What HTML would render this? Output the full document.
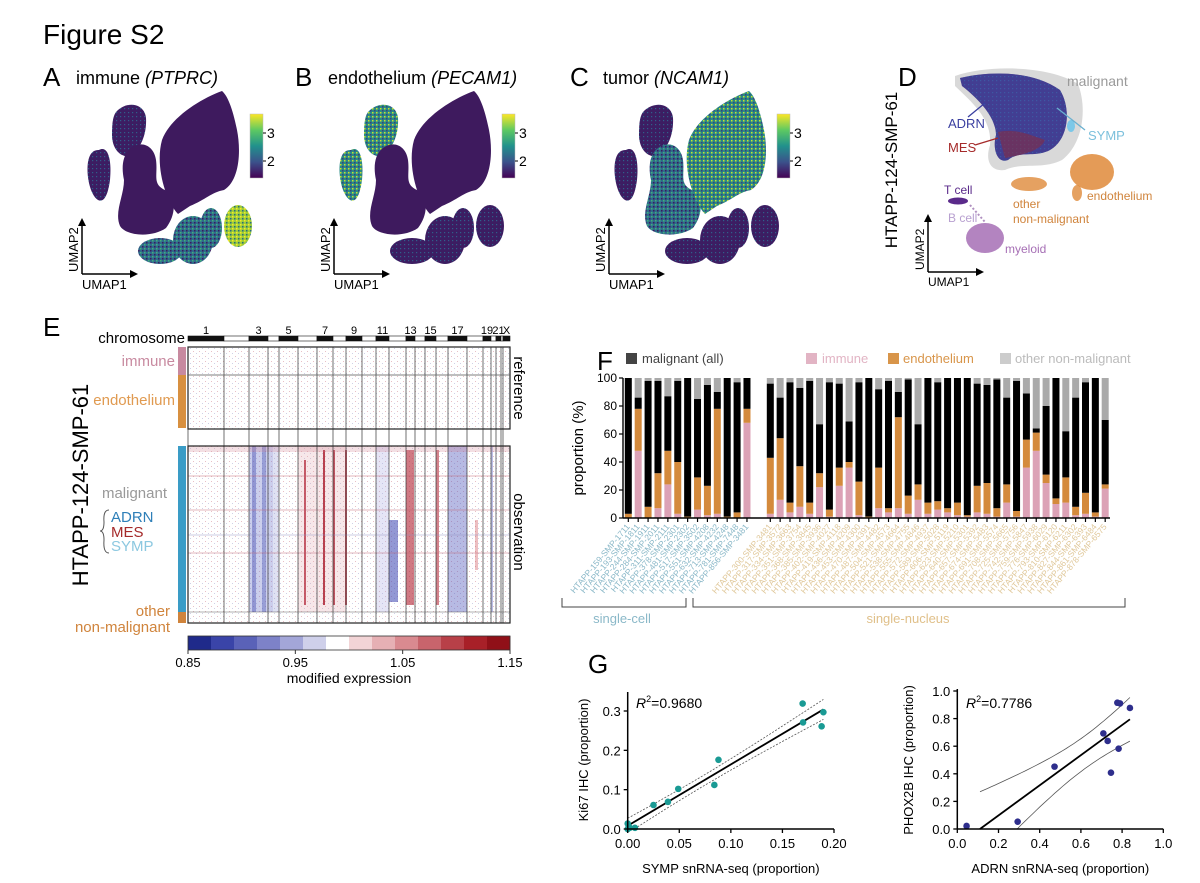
<!DOCTYPE html>
<html><head><meta charset="utf-8"><style>
html,body{margin:0;padding:0;background:#fff;}
svg{display:block;font-family:"Liberation Sans",Arial,sans-serif;}
</style></head><body>
<svg id="fig" width="1200" height="883" viewBox="0 0 1200 883" xmlns="http://www.w3.org/2000/svg">
<defs>
<linearGradient id="viridis" x1="0" y1="1" x2="0" y2="0">
<stop offset="0" stop-color="#440154"/><stop offset="0.25" stop-color="#3b528b"/><stop offset="0.5" stop-color="#21918c"/><stop offset="0.75" stop-color="#5ec962"/><stop offset="1" stop-color="#fde725"/>
</linearGradient>
<pattern id="mottleGreen" width="4" height="4" patternUnits="userSpaceOnUse"><rect width="4" height="4" fill="#2a8a84"/><rect x="0" y="0" width="1.5" height="1.5" fill="#c8e030"/><rect x="2" y="2" width="1.5" height="1.5" fill="#3a3f7e"/></pattern>
<pattern id="mottleTeal" width="4" height="4" patternUnits="userSpaceOnUse"><rect width="4" height="4" fill="#2f6a8a"/><rect x="0" y="0" width="1.5" height="1.5" fill="#42b07a"/><rect x="2" y="2" width="1.5" height="1.5" fill="#3a1a5e"/></pattern>
<pattern id="mottleYellow" width="4" height="4" patternUnits="userSpaceOnUse"><rect width="4" height="4" fill="#9ccc3a"/><rect x="0" y="0" width="1.5" height="1.5" fill="#fde725"/><rect x="2" y="2" width="1.5" height="1.5" fill="#2a6a7e"/></pattern>
<pattern id="mottlePurple" width="4" height="4" patternUnits="userSpaceOnUse"><rect width="4" height="4" fill="#3c1d62"/><rect x="0" y="0" width="1.2" height="1.2" fill="#2f5f8a"/></pattern>
<pattern id="hmNoise" width="6" height="5" patternUnits="userSpaceOnUse"><rect width="6" height="5" fill="#fff"/><rect x="1" y="1" width="1" height="1" fill="#e8c0c6"/><rect x="4" y="3" width="1" height="1" fill="#d0d0e6"/></pattern>
</defs>

<text x="43" y="44" font-size="28">Figure S2</text>

<g id="umaps"></g>

<!-- Panel D -->
<g>
<text x="898" y="86" font-size="26">D</text>
<text transform="translate(897,170) rotate(-90)" text-anchor="middle" font-size="17">HTAPP-124-SMP-61</text>
<path d="M955,76 C990,64 1050,66 1078,84 C1088,110 1082,145 1062,160 C1042,170 1022,162 1005,170 C990,172 985,160 990,145 C992,120 975,105 955,86 Z" fill="#d9d9d9"/>
<path d="M960,78 C995,70 1035,72 1060,90 C1072,110 1068,140 1050,150 C1035,158 1020,150 1008,160 C998,164 992,150 996,135 C996,118 980,100 962,86 Z" fill="url(#mottlePurple)" opacity="0.9"/>
<path d="M960,78 C995,70 1035,72 1060,90 C1072,110 1068,140 1050,150 C1035,158 1020,150 1008,160 C998,164 992,150 996,135 C996,118 980,100 962,86 Z" fill="#3b4bb0" opacity="0.55"/>
<path d="M998,132 C1015,128 1030,135 1045,140 C1040,152 1020,155 1005,158 Z" fill="#8b2a3a" opacity="0.55"/>
<ellipse cx="1071" cy="126" rx="4" ry="6" fill="#7cc8e8"/>
<line x1="1057" y1="108" x2="1085" y2="130" stroke="#6ab0d0" stroke-width="1.3"/>
<ellipse cx="1092" cy="172" rx="22" ry="18" fill="#df8a3a" opacity="0.85"/>
<ellipse cx="1077" cy="193" rx="5" ry="8" fill="#df8a3a" opacity="0.8"/>
<ellipse cx="1029" cy="184" rx="18" ry="7" fill="#df8a3a" opacity="0.8"/>
<ellipse cx="958" cy="201" rx="10" ry="3.5" fill="#5a2a8a"/>
<ellipse cx="985" cy="238" rx="19" ry="15" fill="#a66fb5" opacity="0.85"/>
<line x1="970" y1="205" x2="985" y2="222" stroke="#b090c0" stroke-width="2" stroke-dasharray="2 2"/>
<text x="1067" y="86" font-size="14" fill="#9a9a9a">malignant</text>
<text x="948" y="128" font-size="13" fill="#3a3fa0">ADRN</text>
<line x1="968" y1="117" x2="985" y2="103" stroke="#3a3fa0" stroke-width="1.3"/>
<text x="948" y="152" font-size="13" fill="#a52a2a">MES</text>
<line x1="975" y1="145" x2="998" y2="138" stroke="#a52a2a" stroke-width="1.3"/>
<text x="1088" y="140" font-size="13" fill="#7cc0dc">SYMP</text>
<text x="944" y="194" font-size="12" fill="#5a2a8a">T cell</text>
<text x="948" y="222" font-size="12" fill="#b8a0d0">B cell</text>
<text x="1005" y="253" font-size="12" fill="#a66fb5">myeloid</text>
<text x="1087" y="200" font-size="12" fill="#d0843c">endothelium</text>
<text x="1013" y="208" font-size="12" fill="#d0843c">other</text>
<text x="1013" y="223" font-size="12" fill="#d0843c">non-malignant</text>
<line x1="928" y1="272" x2="928" y2="220" stroke="#000" stroke-width="1.5"/>
<path d="M924,222 L928,214 L932,222 Z"/>
<line x1="928" y1="272" x2="978" y2="272" stroke="#000" stroke-width="1.5"/>
<path d="M976,268 L984,272 L976,276 Z"/>
<text transform="translate(924,270) rotate(-90)" font-size="12">UMAP2</text>
<text x="928" y="286" font-size="12">UMAP1</text>
</g>

<!-- Panel E -->
<g id="panelE">
<text x="43" y="336" font-size="26">E</text>
<text transform="translate(88,485) rotate(-90)" text-anchor="middle" font-size="22">HTAPP-124-SMP-61</text>
<text x="185" y="343" text-anchor="end" font-size="15">chromosome</text>
<text x="175" y="366" text-anchor="end" font-size="15" fill="#c88aa0">immune</text>
<text x="175" y="405" text-anchor="end" font-size="15" fill="#e09a50">endothelium</text>
<text x="167" y="498" text-anchor="end" font-size="15" fill="#999">malignant</text>
<text x="111" y="522" font-size="15" fill="#2e7fb8">ADRN</text>
<text x="111" y="537" font-size="15" fill="#a52a2a">MES</text>
<text x="111" y="551" font-size="15" fill="#8cc8e0">SYMP</text>
<path d="M109,510 Q103,510 104,522 Q104,531 100,531 Q104,531 104,540 Q103,553 109,553" fill="none" stroke="#555" stroke-width="1"/>
<text x="170" y="616" text-anchor="end" font-size="15" fill="#d0843c">other</text>
<text x="170" y="632" text-anchor="end" font-size="15" fill="#d0843c">non-malignant</text>
<rect x="178" y="347" width="8" height="28" fill="#c88aa0"/>
<rect x="178" y="375" width="8" height="53" fill="#d89040"/>
<rect x="178" y="446" width="8" height="166" fill="#3a9cc6"/>
<rect x="178" y="612" width="8" height="11" fill="#d0843c"/>
<rect x="188" y="347" width="322" height="82" fill="url(#hmNoise)"/>
<rect x="188" y="446" width="322" height="177" fill="url(#hmNoise)"/>
<g id="hmStripes"></g>
<g id="chromBar"></g>
<rect x="188" y="347" width="322" height="82" fill="none" stroke="#222" stroke-width="1.2"/>
<rect x="188" y="446" width="322" height="177" fill="none" stroke="#222" stroke-width="1.2"/>
<line x1="188" y1="375" x2="510" y2="375" stroke="#555" stroke-width="0.8"/>
<text transform="translate(514,388) rotate(90)" text-anchor="middle" font-size="15">reference</text>
<text transform="translate(514,532) rotate(90)" text-anchor="middle" font-size="15">observation</text>
<g id="hmColorbar"></g>
<text x="349" y="683" text-anchor="middle" font-size="14">modified expression</text>
</g>

<!-- Panel F -->
<g id="panelF">
<text x="597" y="370" font-size="26">F</text>
<rect x="626" y="353" width="11" height="11" fill="#444"/>
<text x="642" y="363" font-size="13" fill="#444">malignant (all)</text>
<rect x="806" y="353" width="11" height="11" fill="#e2b4c4"/>
<text x="822" y="363" font-size="13" fill="#e2b4c4">immune</text>
<rect x="888" y="353" width="11" height="11" fill="#d8954a"/>
<text x="903" y="363" font-size="13" fill="#d8954a">endothelium</text>
<rect x="1000" y="353" width="11" height="11" fill="#ccc"/>
<text x="1015" y="363" font-size="13" fill="#bbb">other non-malignant</text>
<text transform="translate(583,448) rotate(-90)" text-anchor="middle" font-size="15">proportion (%)</text>
<g id="barsF"></g>
<path d="M562,598 L562,607 L686,607 L686,598" fill="none" stroke="#444" stroke-width="1"/>
<text x="622" y="623" text-anchor="middle" font-size="13" fill="#8ab8c8">single-cell</text>
<path d="M693,598 L693,607 L1125,607 L1125,598" fill="none" stroke="#444" stroke-width="1"/>
<text x="908" y="623" text-anchor="middle" font-size="13" fill="#e0c08a">single-nucleus</text>
</g>

<!-- Panel G -->
<g id="panelG">
<text x="588" y="673" font-size="26">G</text>
<g id="scatterL"></g>
<g id="scatterR"></g>
</g>
</svg>

<script>
// ---------- Panel F data ----------
const groupSizes = [13, 35];
const immuneVals = [0,48,0,7,24,3,0,6,2,3,0,0,68,
  3,13,4,8,3,22,1,23,36,2,0,7,4,7,3,13,3,6,4,2,1,4,3,1,11,1,36,48,25,10,11,2,3,1,21];
const endoTopVals = [3,78,8,32,48,40,1,29,23,78,1,4,78,
  43,57,11,37,11,32,6,36,40,26,1,36,7,72,16,24,11,12,7,11,2,23,25,7,24,5,56,61,31,14,29,8,18,4,24];
const malignantTopVals = [100,86,98,98,87,98,100,85,95,90,100,97,100,
  96,86,97,93,98,67,97,96,69,97,100,92,98,90,99,67,100,97,100,100,100,96,95,99,86,98,89,64,80,100,62,86,97,100,70];
const yTicksF = [0,20,40,60,80,100];
const scLabels = ["HTAPP-159-SMP-1711","HTAPP-193-SMP-1811","HTAPP-244-SMP-1911","HTAPP-284-SMP-2011","HTAPP-311-SMP-2111","HTAPP-378-SMP-2301","HTAPP-481-SMP-2302","HTAPP-517-SMP-3502","HTAPP-551-SMP-4208","HTAPP-632-SMP-4232","HTAPP-713-SMP-4248","HTAPP-781-SMP-7448","HTAPP-856-SMP-3481"];

// ---------- Panel G data ----------
const sympX = [0.1696,0.170,0.1897,0.188,0.088,0.084,0.049,0.039,0.025,0.000,0.001,0.002,0.007,0.000];
const ki67Y = [0.319,0.271,0.297,0.261,0.176,0.112,0.102,0.069,0.061,0.014,0.006,0.003,0.003,0.000];
const adrnX = [0.045,0.293,0.472,0.709,0.730,0.777,0.790,0.838,0.783,0.746];
const phox2bY = [0.022,0.053,0.452,0.693,0.638,0.915,0.910,0.877,0.582,0.408];
const xTicksL = [0,0.05,0.10,0.15,0.20];
const yTicksL = [0,0.1,0.2,0.3];
const xTicksR = [0,0.2,0.4,0.6,0.8,1.0];
const yTicksR = [0,0.2,0.4,0.6,0.8,1.0];

// ---------- Heatmap E data ----------
const chromLabels = ["1","3","5","7","9","11","13","15","17","19","21","X"];
const chromBounds = [188,224,249,268,279,298,317,333,346,362,376,389,406,415,425,436,448,467,483,491,496,501,503,510];
const colorbarVals = [0.85,0.95,1.05,1.15];
const colorbarColors = ["#1f2a8a","#3a44a8","#5a62b8","#7d82c8","#a3a6d8","#cfd0ea","#ffffff","#f2d4d6","#e6b0b4","#d98a90","#c8646c","#b84048","#a82028","#901018"];

const NS = "http://www.w3.org/2000/svg";
function mk(parent, tag, attrs, text){
  const e = document.createElementNS(NS, tag);
  for (const k in attrs) e.setAttribute(k, attrs[k]);
  if (text !== undefined) e.textContent = text;
  parent.appendChild(e);
  return e;
}

// ---------- UMAP panels A-C ----------
(function(){
  const g = document.getElementById('umaps');
  const panels = [
    {dx:0, letter:'A', title:'immune ', ital:'(PTPRC)', name:'a',
     leaf:'#3e1a5e', mid:'#3e1a5e', ul:'url(#mottlePurple)', sl:'url(#mottlePurple)', b1:'url(#mottleTeal)', b2:'url(#mottleTeal)', y1:'url(#mottleYellow)'},
    {dx:252, letter:'B', title:'endothelium ', ital:'(PECAM1)', name:'b',
     leaf:'#3e1a5e', mid:'#3e1a5e', ul:'url(#mottleGreen)', sl:'url(#mottleGreen)', b1:'url(#mottlePurple)', b2:'url(#mottlePurple)', y1:'url(#mottlePurple)'},
    {dx:527, letter:'C', title:'tumor ', ital:'(NCAM1)', name:'c',
     leaf:'url(#mottleGreen)', mid:'url(#mottleTeal)', ul:'url(#mottlePurple)', sl:'url(#mottlePurple)', b1:'url(#mottlePurple)', b2:'url(#mottlePurple)', y1:'url(#mottlePurple)'}
  ];
  panels.forEach(p => {
    const pg = mk(g, 'g', {transform:`translate(${p.dx},0)`});
    
    
    const L = mk(pg, 'text', {x:43, y:86, 'font-size':26}, p.letter);
    
    
    const t = mk(pg, 'text', {x:76, y:84, 'font-size':18});
    
    
    t.appendChild(document.createTextNode(p.title));
    mk(t, 'tspan', {'font-style':'italic'}, p.ital);
    const shapes = [
      ['path', {d:'M99,150 C108,145 112,160 110,180 C108,195 104,203 98,200 C90,195 86,175 88,162 C90,152 94,150 99,150 Z', fill:p.sl}, 'small-left-cluster'],
      ['path', {d:'M118,110 C130,100 145,105 146,118 C147,135 140,150 130,156 C120,158 112,148 112,135 C112,122 113,114 118,110 Z', fill:p.ul}, 'upper-left-cluster'],
      ['path', {d:'M131,148 C142,140 154,146 156,160 C158,175 152,184 165,190 C177,197 176,215 166,228 C152,238 126,236 120,226 C114,212 124,196 124,180 C121,166 123,154 131,148 Z', fill:p.mid}, 'middle-cluster'],
      ['path', {d:'M222,91 C200,99 170,118 162,140 C155,165 165,200 178,214 L190,206 C205,200 212,192 224,190 C240,180 241,150 237,130 C233,110 228,96 222,91 Z', fill:p.leaf}, 'main-leaf-cluster'],
      ['ellipse', {cx:160, cy:251, rx:22, ry:13, fill:p.b1}, 'bottom-left-cluster'],
      ['ellipse', {cx:193, cy:240, rx:20, ry:24, fill:p.b2}, 'bottom-mid-cluster'],
      ['ellipse', {cx:211, cy:228, rx:11, ry:20, fill:p.b2}, 'bottom-right-cluster'],
      ['ellipse', {cx:238, cy:226, rx:14, ry:21, fill:p.y1}, 'side-cluster']
    ];
    shapes.forEach(s => {
      const e = mk(pg, s[0], s[1]);
      
      
    });
    const cb = mk(pg, 'rect', {x:250, y:114, width:13, height:64, fill:'url(#viridis)', stroke:'#bbb', 'stroke-width':0.5});
    
    
    [['3',133],['2',161]].forEach(v => {
      mk(pg, 'line', {x1:263, x2:266, y1:v[1], y2:v[1], stroke:'#000'});
      const tt = mk(pg, 'text', {x:267, y:v[1]+5, 'font-size':14}, v[0]);
      
      
    });
    mk(pg, 'line', {x1:82, y1:274, x2:82, y2:224, stroke:'#000', 'stroke-width':1.5});
    mk(pg, 'path', {d:'M78,226 L82,218 L86,226 Z'});
    mk(pg, 'line', {x1:82, y1:274, x2:132, y2:274, stroke:'#000', 'stroke-width':1.5});
    mk(pg, 'path', {d:'M130,270 L138,274 L130,278 Z'});
    const u2 = mk(pg, 'text', {transform:'translate(78,272) rotate(-90)', 'font-size':13}, 'UMAP2');
    
    
    const u1 = mk(pg, 'text', {x:82, y:289, 'font-size':13}, 'UMAP1');
    
    
  });
})();

// ---------- Heatmap E ----------
(function(){
  const cg = document.getElementById('chromBar');
  for (let i = 0; i < chromBounds.length - 1; i++) {
    const r = mk(cg, 'rect', {x:chromBounds[i], y:336, width:chromBounds[i+1]-chromBounds[i], height:5,
      fill: i % 2 === 0 ? '#111' : '#fff', stroke:'#111', 'stroke-width':0.6});
    
    
    const ln = mk(cg, 'line', {x1:chromBounds[i], x2:chromBounds[i], y1:347, y2:623, stroke:'#333', 'stroke-width':0.7});
    
    
  }
  chromLabels.forEach((lab, j) => {
    const i = j * 2;
    const cx = (chromBounds[i] + chromBounds[i+1]) / 2;
    const tx = mk(cg, 'text', {x:cx, y:334, 'text-anchor':'middle', 'font-size':11}, lab);
    
    
  });
  const sg = document.getElementById('hmStripes');
  const stripes = [
    [249,273,446,612,'#6a72c8',0.35],[252,256,446,612,'#3a44b0',0.4],[262,266,446,612,'#3a44b0',0.35],[273,279,446,612,'#8088cc',0.25],
    [298,317,446,612,'#e0a0a8',0.25],[304,306,460,605,'#b02030',0.7],
    [317,346,446,612,'#e0a0a8',0.25],[323,325,450,605,'#a81828',0.8],[333,335,450,605,'#a81828',0.7],[345,347,450,605,'#a81828',0.7],
    [376,389,446,612,'#a8aae0',0.3],[389,398,520,602,'#3a44b0',0.55],
    [406,414,450,605,'#b02030',0.6],
    [436,439,450,605,'#b83040',0.6],[448,467,446,612,'#4a52b8',0.4],
    [475,478,520,570,'#c84850',0.35],[491,493,446,612,'#5a62c0',0.4],
    [188,510,446,452,'#d08090',0.25]
  ];
  stripes.forEach(s => {
    const r = mk(sg, 'rect', {x:s[0], y:s[2], width:s[1]-s[0], height:s[3]-s[2], fill:s[4], opacity:s[5]});
    
    
  });
  [[188,510,476,'#c06070'],[188,510,510,'#c06070'],[188,510,535,'#9090c0'],[188,510,553,'#c06070'],[188,510,612,'#555']].forEach(h => {
    const l = mk(sg, 'line', {x1:h[0], x2:h[1], y1:h[2], y2:h[2], stroke:h[3], 'stroke-width':0.8, opacity:0.6});
    
    
  });
  const cb = document.getElementById('hmColorbar');
  const x0 = 188, x1 = 510, w = (x1 - x0) / colorbarColors.length;
  colorbarColors.forEach((c, i) => {
    const r = mk(cb, 'rect', {x:x0 + i*w, y:636, width:w+0.3, height:14, fill:c});
    
    
  });
  const border = mk(cb, 'rect', {x:x0, y:636, width:x1-x0, height:14, fill:'none', stroke:'#333', 'stroke-width':0.8});
  
  
  const sx = v => x0 + (v - 0.85) / 0.30 * (x1 - x0);
  colorbarVals.forEach(v => {
    mk(cb, 'line', {x1:sx(v), x2:sx(v), y1:650, y2:654, stroke:'#333'});
    const t = mk(cb, 'text', {x:sx(v), y:667, 'text-anchor':'middle', 'font-size':13}, v.toFixed(2));
    
    
  });
})();

// ---------- Bars F ----------
(function(){
  const g = document.getElementById('barsF');
  const yB = 518, yT = 378;
  const sy = v => yB - v / 100 * (yB - yT);
  const g1Start = 628.3, g1Step = 9.89, g2Start = 770.3, g2Step = 9.85, bw = 7;
  const xOf = i => i < groupSizes[0] ? g1Start + i * g1Step : g2Start + (i - groupSizes[0]) * g2Step;
  const n = immuneVals.length;
  for (let i = 0; i < n; i++) {
    const cx = xOf(i), x = cx - bw/2;
    const segs = [
      [0, immuneVals[i], '#dca2b6', 'bar-immune'],
      [immuneVals[i], endoTopVals[i], '#d48a3c', 'bar-endothelium'],
      [endoTopVals[i], malignantTopVals[i], '#000', 'bar-malignant'],
      [malignantTopVals[i], 100, '#aaaaaa', 'bar-other']
    ];
    segs.forEach(s => {
      if (s[1] - s[0] <= 0) return;
      const r = mk(g, 'rect', {x:x, y:sy(s[1]), width:bw, height:sy(s[0]) - sy(s[1]), fill:s[2]});
      
      
    });
    mk(g, 'line', {x1:cx, x2:cx, y1:yB, y2:yB+4, stroke:'#000', 'stroke-width':1.2});
    const isSC = i < groupSizes[0];
    let label;
    if (isSC) label = scLabels[i];
    else label = 'HTAPP-' + (300 + (i - groupSizes[0]) * 17) + '-SMP-' + (3481 + (i - groupSizes[0]) * 91);
    const t = mk(g, 'text', {transform:`translate(${cx+2},${yB+9}) rotate(-50)`, 'text-anchor':'end', 'font-size':8.5, fill: isSC ? '#8ab8c8' : '#e0c89a'}, label);
    
    
  }
  const ax = mk(g, 'line', {x1:623, x2:1110, y1:yB, y2:yB, stroke:'#000', 'stroke-width':1.4});
  
  
  const ay = mk(g, 'line', {x1:623, x2:623, y1:yT, y2:yB, stroke:'#000', 'stroke-width':1.4});
  
  
  yTicksF.forEach(v => {
    mk(g, 'line', {x1:619, x2:623, y1:sy(v), y2:sy(v), stroke:'#000', 'stroke-width':1.2});
    const t = mk(g, 'text', {x:617, y:sy(v)+4, 'text-anchor':'end', 'font-size':12}, String(v));
    
    
  });
})();

// ---------- Scatter G ----------
function scatter(gid, xs, ys, cfg){
  const g = document.getElementById(gid);
  const sx = v => cfg.x0 + (v - cfg.xmin) / (cfg.xmax - cfg.xmin) * (cfg.x1 - cfg.x0);
  const sy = v => cfg.y0 - (v - cfg.ymin) / (cfg.ymax - cfg.ymin) * (cfg.y0 - cfg.y1);
  const n = xs.length;
  const mx = xs.reduce((a,b)=>a+b,0)/n, my = ys.reduce((a,b)=>a+b,0)/n;
  let sxx = 0, sxy = 0;
  for (let i=0;i<n;i++){ sxx += (xs[i]-mx)**2; sxy += (xs[i]-mx)*(ys[i]-my); }
  const b = sxy/sxx, a = my - b*mx;
  let sse = 0;
  for (let i=0;i<n;i++) sse += (ys[i] - a - b*xs[i])**2;
  const s = Math.sqrt(sse/(n-2));
  const tv = cfg.t;
  const xmn = Math.max(Math.min(...xs), cfg.lineStart !== undefined ? (-a/b) : -1e9);
  const xmx = Math.max(...xs);
  const up = [], lo = [];
  const steps = 40;
  for (let k=0;k<=steps;k++){
    const x = xmn + (xmx - xmn) * k / steps;
    const yh = a + b*x;
    const se = s*Math.sqrt(1/n + (x-mx)**2/sxx);
    const u = yh + tv*se, l = yh - tv*se;
    if (u >= cfg.ymin) up.push(`${sx(x).toFixed(1)},${sy(u).toFixed(1)}`);
    if (l >= cfg.ymin) lo.push(`${sx(x).toFixed(1)},${sy(l).toFixed(1)}`);
  }
  const bu = mk(g, 'polyline', {points:up.join(' '), fill:'none', stroke:'#555', 'stroke-width':0.8, 'stroke-dasharray':cfg.dash});
  
  
  const bl = mk(g, 'polyline', {points:lo.join(' '), fill:'none', stroke:'#555', 'stroke-width':0.8, 'stroke-dasharray':cfg.dash});
  
  
  const fl = mk(g, 'line', {x1:sx(xmn), y1:sy(a+b*xmn), x2:sx(xmx), y2:sy(a+b*xmx), stroke:'#000', 'stroke-width':1.8});
  
  
  for (let i=0;i<n;i++){
    const c = mk(g, 'circle', {cx:sx(xs[i]), cy:sy(ys[i]), r:3.3, fill:cfg.color});
    
    
  }
  const xa = mk(g, 'line', {x1:cfg.x0, x2:cfg.x1, y1:cfg.y0, y2:cfg.y0, stroke:'#000', 'stroke-width':1.5});
  
  
  const ya = mk(g, 'line', {x1:cfg.x0, x2:cfg.x0, y1:cfg.y0, y2:cfg.ytop, stroke:'#000', 'stroke-width':1.5});
  
  
  cfg.xt.forEach(v => {
    mk(g, 'line', {x1:sx(v), x2:sx(v), y1:cfg.y0, y2:cfg.y0+4, stroke:'#000', 'stroke-width':1.3});
    const t = mk(g, 'text', {x:sx(v), y:cfg.y0+19, 'text-anchor':'middle', 'font-size':13}, v.toFixed(cfg.xd));
    
    
  });
  cfg.yt.forEach(v => {
    mk(g, 'line', {x1:cfg.x0-4, x2:cfg.x0, y1:sy(v), y2:sy(v), stroke:'#000', 'stroke-width':1.3});
    const t = mk(g, 'text', {x:cfg.x0-7, y:sy(v)+5, 'text-anchor':'end', 'font-size':13}, v.toFixed(1));
    
    
  });
  const xt = mk(g, 'text', {x:(cfg.x0+cfg.x1)/2, y:873, 'text-anchor':'middle', 'font-size':13}, cfg.xtitle);
  
  
  const yt = mk(g, 'text', {transform:`translate(${cfg.ytx},760) rotate(-90)`, 'text-anchor':'middle', 'font-size':13}, cfg.ytitle);
  
  
  const r2 = mk(g, 'text', {x:cfg.r2x, y:708, 'font-size':14});
  
  
  mk(r2, 'tspan', {'font-style':'italic'}, 'R');
  mk(r2, 'tspan', {'font-size':9, dy:-6}, '2');
  mk(r2, 'tspan', {dy:6}, cfg.r2);
}
scatter('scatterL', sympX, ki67Y, {x0:627.7, x1:834, y0:829, y1:711, ytop:692, xmin:0, xmax:0.2, ymin:0, ymax:0.3,
  xt:xTicksL, yt:yTicksL, xd:2, color:'#1a9a94', t:2.18, dash:'2 1.5',
  xtitle:'SYMP snRNA-seq (proportion)', ytitle:'Ki67 IHC (proportion)', ytx:588, r2x:636, r2:'=0.9680'});
scatter('scatterR', adrnX, phox2bY, {x0:957.3, x1:1163.3, y0:829, y1:691, ytop:689, xmin:0, xmax:1, ymin:0, ymax:1,
  xt:xTicksR, yt:yTicksR, xd:1, color:'#2e2e8c', t:2.31, dash:'none', lineStart:true,
  xtitle:'ADRN snRNA-seq (proportion)', ytitle:'PHOX2B IHC (proportion)', ytx:913, r2x:966, r2:'=0.7786'});
</script>
</body></html>
